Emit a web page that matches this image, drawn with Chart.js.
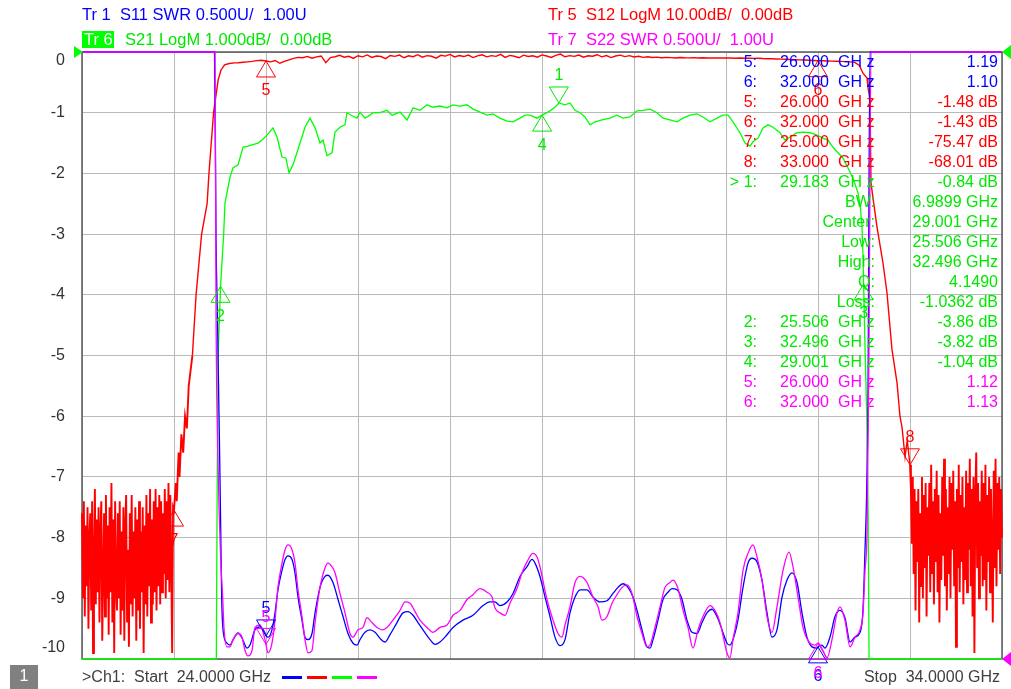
<!DOCTYPE html>
<html>
<head>
<meta charset="utf-8">
<script src="https://cdn.jsdelivr.net/npm/chart.js@4.4.0/dist/chart.umd.min.js"></script>
<style>
html,body{margin:0;padding:0;background:#fff;}
#wrap{width:1011px;height:689px;position:relative;}
</style>
</head>
<body>
<div id="wrap"><canvas id="vna" width="1011" height="689"></canvas></div>
<script>
// sweep and grid
const startGHz = 24, stopGHz = 34;
const gridTicks = [0, -1, -2, -3, -4, -5, -6, -7, -8, -9, -10];

// S12 LogM (red), dB. noise floor below band, 10 MHz steps
const s12LowStart = 24.00, s12NoiseStep = 0.01;
const s12LowNoise = [
  -76,-90,-74,-93,-78,-88,-75,-95,-80,-76,
  -92,-74,-99,-84,-72,-91,-77,-89,-75,-94,
  -79,-74,-97,-86,-76,-93,-73,-90,-78,-96,
  -75,-89,-71,-94,-77,-99,-74,-88,-92,-76,
  -90,-74,-96,-79,-92,-75,-97,-78,-73,-94,
  -82,-98,-76,-91,-73,-93,-79,-90,-75,-97,
  -77,-92,-74,-95,-79,-89,-75,-99,-78,-91,
  -73,-93,-76,-88,-72,-94,-77,-91,-74,-89,
  -72,-92,-75,-88,-73,-91,-74,-89,-76,-86,
  -72,-90,-74,-87,-71,-89,-73,-84,-99,-75,
  -75.47
];
const s12Rise = [
  [25.02,-71],[25.03,-74],[25.05,-66],[25.06,-70],[25.08,-63],[25.10,-66],[25.12,-60],
  [25.14,-62],[25.16,-55],[25.20,-50],[25.24,-40],
  [25.30,-30],[25.36,-25],[25.38,-20],[25.43,-10],[25.48,-4.6],[25.51,-3.0],[25.55,-2.1],
  [25.60,-1.9],[25.66,-1.8]
];
const s12PassStart = 25.70, s12PassStep = 0.05;
const s12Pass = [
  -1.76,-1.68,-1.62,-1.55,-1.42,-1.35,-1.48,-1.62,-1.40,-1.85,
  -1.55,-1.30,-1.05,-0.88,-0.95,-0.72,-1.02,-0.80,-0.65,-1.75,
  -0.92,-0.78,-0.55,-0.86,-0.70,-1.05,-0.62,-0.80,-0.48,-0.90,
  -0.66,-0.75,-1.10,-0.58,-0.72,-0.50,-0.95,-0.62,-0.78,-0.45,
  -0.85,-0.60,-0.70,-1.02,-0.55,-0.68,-0.40,-0.82,-0.58,-0.75,
  -0.50,-0.92,-0.64,-0.46,-0.80,-0.60,-0.72,-0.38,-0.88,-0.56,
  -0.70,-0.95,-0.52,-0.74,-0.62,-0.85,-0.48,-0.66,-0.90,-0.55,
  -0.35,-0.78,-0.60,-0.72,-0.50,-0.85,-0.63,-0.70,-0.45,-0.80,
  -0.58,-0.92,-0.66,-0.52,-0.76,-0.60,-0.82,-0.70,-0.88,-0.78,
  -0.90,-0.84,-0.95,-0.88,-0.92,-0.98,-0.90,-0.94,-0.96,-0.92,
  -0.98,-0.95,-1.00,-0.96,-0.99,-0.97,-1.00,-0.98,-1.02,-1.00,
  -1.03,-1.01,-1.05,-1.04,-1.08,-1.10,-1.12,-1.15,-1.18,-1.20,
  -1.24,-1.27,-1.30,-1.33,-1.36,-1.39,-1.43,-1.45,-1.48,-1.50,
  -1.52,-1.55,-1.58,-1.62,-1.70
];
const s12Fall = [
  [32.45,-2.2],[32.489,-3.5],[32.533,-4.3],[32.543,-5.8],[32.565,-7.9],[32.576,-21.6],
  [32.641,-28.8],[32.707,-34.8],[32.750,-39.7],[32.804,-49],[32.859,-54.5],[32.891,-60],
  [32.913,-61.8],[32.946,-66.7],[32.97,-64]
];
const s12HighStart = 33.00;
const s12HighNoise = [
  -68.01,-72,-81,-70,-86,-72,-92,-74,-84,-72,
  -94,-76,-88,-70,-90,-73,-85,-71,-93,-75,
  -83,-71,-89,-68,-86,-74,-91,-72,-84,-69,
  -89,-73,-94,-76,-87,-70,-83,-67,-88,-72,
  -92,-75,-86,-70,-90,-71,-82,-69,-88,-74,
  -98,-72,-85,-68,-89,-73,-84,-70,-91,-75,
  -87,-69,-89,-71,-82,-67,-88,-72,-93,-70,
  -99,-73,-66,-85,-71,-90,-74,-83,-69,-88,
  -71,-87,-68,-92,-73,-84,-70,-89,-72,-81,
  -94,-69,-85,-67,-88,-71,-82,-70,-86,-72,
  -80
];

// S21 LogM (green), dB (shown clamped at -10 outside the band)
const s21 = [
  [24.00,-10],[25.46,-10],[25.47,-7.0],[25.48,-5.0],[25.506,-3.86],[25.52,-3.5],[25.54,-3.0],
  [25.554,-2.49],[25.609,-2.06],[25.641,-1.91],[25.696,-1.86],[25.750,-1.57],[25.804,-1.55],
  [25.913,-1.50],[25.957,-1.45],[26.011,-1.37],[26.076,-1.25],[26.120,-1.40],[26.174,-1.73],
  [26.217,-1.75],[26.250,-1.99],[26.293,-1.86],[26.370,-1.50],[26.424,-1.24],[26.478,-1.09],
  [26.533,-1.25],[26.587,-1.50],[26.620,-1.45],[26.663,-1.71],[26.717,-1.66],[26.750,-1.32],
  [26.804,-1.24],[26.859,-1.20],[26.880,-1.00],[26.935,-1.05],[26.989,-1.09],[27.022,-0.99],
  [27.076,-1.09],[27.130,-1.04],[27.163,-1.00],[27.239,-1.00],[27.315,-0.96],[27.370,-1.04],
  [27.457,-0.99],[27.533,-1.12],[27.598,-0.92],[27.674,-0.96],[27.750,-0.87],[27.815,-0.91],
  [27.891,-0.89],[27.967,-0.92],[28.033,-0.87],[28.109,-0.89],[28.185,-0.87],[28.250,-0.94],
  [28.326,-0.99],[28.402,-1.04],[28.467,-1.02],[28.543,-1.09],[28.620,-1.14],[28.685,-1.15],
  [28.761,-1.09],[28.815,-1.04],[28.870,-1.04],[28.946,-1.09],[29.001,-1.04],[29.065,-0.99],
  [29.141,-0.91],[29.183,-0.84],[29.250,-0.87],[29.304,-0.84],[29.359,-0.96],[29.413,-1.00],
  [29.467,-1.07],[29.522,-1.20],[29.576,-1.15],[29.652,-1.12],[29.739,-1.09],[29.815,-1.04],
  [29.880,-1.09],[29.957,-1.07],[30.033,-0.97],[30.098,-0.96],[30.174,-0.94],[30.250,-1.00],
  [30.315,-1.09],[30.391,-1.12],[30.467,-1.15],[30.533,-1.09],[30.609,-1.04],[30.685,-1.02],
  [30.750,-1.07],[30.826,-1.15],[30.902,-1.09],[30.967,-1.04],[31.022,-1.04],[31.076,-1.15],
  [31.152,-1.33],[31.207,-1.50],[31.261,-1.55],[31.293,-1.48],[31.348,-1.42],[31.402,-1.25],
  [31.457,-1.20],[31.511,-1.24],[31.587,-1.33],[31.641,-1.45],[31.696,-1.40],[31.772,-1.33],
  [31.837,-1.32],[31.913,-1.33],[31.989,-1.37],[32.054,-1.42],[32.109,-1.45],[32.163,-1.57],
  [32.217,-1.66],[32.272,-1.75],[32.326,-1.91],[32.380,-2.08],[32.435,-2.32],[32.460,-2.55],
  [32.478,-2.88],[32.488,-3.30],[32.496,-3.82],[32.510,-4.80],[32.530,-6.00],[32.545,-7.60],
  [32.555,-10],[34.00,-10]
];

// S11 SWR (blue), shown clamped at 6.0 outside the band
const s11 = [
  [24.000,6.00],[25.440,6.00],[25.457,4.45],[25.473,3.79],[25.497,2.64],[25.508,2.06],[25.518,1.51],
  [25.533,1.24],[25.576,1.13],[25.609,1.115],[25.641,1.156],[25.696,1.214],[25.739,1.173],[25.793,1.09],
  [25.826,1.115],[25.880,1.24],[25.935,1.264],[25.989,1.214],[26.000,1.19],[26.022,1.18],[26.065,1.24],
  [26.098,1.38],[26.130,1.57],[26.174,1.73],[26.207,1.82],[26.239,1.85],[26.283,1.82],[26.315,1.71],
  [26.348,1.51],[26.391,1.32],[26.424,1.18],[26.457,1.16],[26.500,1.21],[26.533,1.38],[26.587,1.59],
  [26.641,1.68],[26.674,1.69],[26.728,1.63],[26.783,1.49],[26.837,1.35],[26.891,1.21],[26.946,1.13],
  [26.989,1.115],[27.022,1.16],[27.076,1.22],[27.130,1.24],[27.185,1.22],[27.239,1.17],[27.293,1.14],
  [27.348,1.20],[27.424,1.30],[27.489,1.38],[27.543,1.39],[27.598,1.36],[27.652,1.30],[27.707,1.24],
  [27.783,1.16],[27.837,1.12],[27.891,1.14],[27.967,1.20],[28.033,1.26],[28.141,1.32],[28.250,1.36],
  [28.359,1.44],[28.435,1.47],[28.489,1.47],[28.543,1.44],[28.620,1.47],[28.685,1.54],[28.761,1.68],
  [28.837,1.76],[28.891,1.82],[28.924,1.79],[28.978,1.68],[29.033,1.51],[29.087,1.35],[29.141,1.18],
  [29.196,1.11],[29.250,1.16],[29.304,1.38],[29.359,1.51],[29.413,1.57],[29.489,1.57],[29.554,1.51],
  [29.630,1.47],[29.707,1.48],[29.772,1.54],[29.826,1.59],[29.880,1.62],[29.935,1.59],[29.989,1.51],
  [30.033,1.40],[30.087,1.24],[30.141,1.10],[30.174,1.09],[30.207,1.16],[30.261,1.32],[30.315,1.49],
  [30.370,1.55],[30.413,1.58],[30.467,1.57],[30.522,1.49],[30.576,1.32],[30.630,1.22],[30.685,1.21],
  [30.739,1.30],[30.793,1.38],[30.848,1.41],[30.902,1.35],[30.957,1.24],[31.011,1.13],[31.043,1.115],
  [31.076,1.16],[31.130,1.32],[31.185,1.59],[31.239,1.79],[31.283,1.83],[31.337,1.80],[31.391,1.65],
  [31.446,1.38],[31.500,1.18],[31.554,1.24],[31.609,1.51],[31.663,1.65],[31.717,1.71],[31.772,1.63],
  [31.826,1.38],[31.880,1.18],[31.935,1.10],[31.989,1.09],[32.000,1.10],[32.043,1.115],[32.076,1.09],
  [32.130,1.18],[32.185,1.35],[32.239,1.40],[32.293,1.34],[32.348,1.14],[32.402,1.18],[32.457,1.22],
  [32.489,1.40],[32.511,1.90],[32.527,2.31],[32.543,3.13],[32.565,6.00],[34.000,6.00]
];

// S22 SWR (magenta)
const s22 = [
  [24.000,6.00],[25.446,6.00],[25.457,3.87],[25.478,2.64],[25.508,1.82],[25.529,1.51],[25.543,1.26],
  [25.576,1.10],[25.609,1.10],[25.641,1.16],[25.696,1.21],[25.739,1.18],[25.772,1.07],[25.804,1.025],
  [25.848,1.07],[25.880,1.26],[25.935,1.28],[25.989,1.16],[26.000,1.12],[26.022,1.05],[26.065,1.13],
  [26.098,1.32],[26.130,1.59],[26.174,1.79],[26.207,1.90],[26.239,1.94],[26.283,1.90],[26.315,1.79],
  [26.348,1.57],[26.391,1.35],[26.424,1.16],[26.457,1.05],[26.500,1.07],[26.533,1.30],[26.587,1.59],
  [26.641,1.75],[26.674,1.79],[26.717,1.76],[26.750,1.71],[26.804,1.54],[26.859,1.38],[26.913,1.21],
  [26.946,1.18],[27.000,1.24],[27.054,1.26],[27.098,1.34],[27.152,1.30],[27.207,1.26],[27.261,1.24],
  [27.315,1.26],[27.380,1.32],[27.457,1.40],[27.511,1.47],[27.565,1.46],[27.620,1.39],[27.674,1.32],
  [27.750,1.26],[27.815,1.22],[27.891,1.26],[27.967,1.28],[28.033,1.36],[28.109,1.40],[28.185,1.49],
  [28.250,1.53],[28.326,1.58],[28.402,1.55],[28.457,1.51],[28.489,1.42],[28.543,1.38],[28.598,1.36],
  [28.652,1.46],[28.728,1.58],[28.783,1.71],[28.837,1.80],[28.902,1.87],[28.946,1.84],[28.978,1.76],
  [29.054,1.49],[29.120,1.32],[29.174,1.21],[29.217,1.18],[29.250,1.28],[29.304,1.43],[29.359,1.63],
  [29.413,1.68],[29.489,1.63],[29.554,1.51],[29.609,1.43],[29.652,1.32],[29.707,1.35],[29.761,1.46],
  [29.815,1.53],[29.870,1.59],[29.924,1.61],[29.978,1.54],[30.033,1.35],[30.087,1.21],[30.141,1.10],
  [30.174,1.115],[30.228,1.26],[30.283,1.43],[30.337,1.59],[30.391,1.63],[30.424,1.65],[30.478,1.58],
  [30.533,1.40],[30.587,1.26],[30.641,1.09],[30.696,1.24],[30.750,1.35],[30.826,1.44],[30.880,1.40],
  [30.935,1.30],[31.011,1.05],[31.043,1.01],[31.076,1.16],[31.130,1.38],[31.185,1.73],[31.239,1.87],
  [31.293,1.94],[31.337,1.84],[31.391,1.65],[31.446,1.35],[31.500,1.22],[31.554,1.43],[31.620,1.73],
  [31.685,1.88],[31.728,1.76],[31.783,1.51],[31.837,1.26],[31.913,1.13],[31.967,1.115],[32.000,1.13],
  [32.054,1.07],[32.098,1.01],[32.152,1.16],[32.207,1.38],[32.239,1.43],[32.293,1.32],[32.348,1.10],
  [32.402,1.18],[32.457,1.24],[32.489,1.38],[32.511,1.73],[32.533,2.06],[32.554,3.55],[32.576,6.00],
  [34.000,6.00]
];

// markers (frequency GHz, value)
const s11MarkerId = ['5', '6'], s11MarkerF = [26.000, 32.000], s11MarkerSwr = [1.19, 1.10];
const s12MarkerId = ['5', '6', '7', '8'], s12MarkerF = [26.000, 32.000, 25.000, 33.000], s12MarkerDb = [-1.48, -1.43, -75.47, -68.01];
const s21MarkerId = ['1', '2', '3', '4'], s21MarkerF = [29.183, 25.506, 32.496, 29.001], s21MarkerDb = [-0.84, -3.86, -3.82, -1.04];
const s22MarkerId = ['5', '6'], s22MarkerF = [26.000, 32.000], s22MarkerSwr = [1.12, 1.13];
// bandwidth search readout
const bwLabels = ['BW:', 'Center:', 'Low:', 'High:', 'Q:', 'Loss:'];
const bwValues = ['6.9899 GHz', '29.001 GHz', '25.506 GHz', '32.496 GHz', '4.1490', '-1.0362 dB'];

const BLUE = '#0000ff', RED = '#ff0000', GREEN = '#00e800', MAGENTA = '#ff00ff';
const FONT = '"Liberation Sans", Arial, sans-serif';

function pairs(arr) { return arr.map(p => ({ x: p[0], y: p[1] })); }
function sweep(start, step, vals) { return vals.map((v, i) => ({ x: +(start + i * step).toFixed(3), y: v })); }

const s12Data = [].concat(
  sweep(s12LowStart, s12NoiseStep, s12LowNoise),
  pairs(s12Rise),
  sweep(s12PassStart, s12PassStep, s12Pass),
  pairs(s12Fall),
  sweep(s12HighStart, s12NoiseStep, s12HighNoise)
);

// marker symbol placement as on the instrument screen
const aboveSet = { 's11:5': 1, 's22:5': 1, 's12:8': 1, 's21:1': 1 };

function tri(ctx, x, y, up, color) {
  const h = 16, w = 9.5;
  ctx.beginPath();
  if (up) { ctx.moveTo(x, y); ctx.lineTo(x - w, y + h); ctx.lineTo(x + w, y + h); }
  else { ctx.moveTo(x, y); ctx.lineTo(x - w, y - h); ctx.lineTo(x + w, y - h); }
  ctx.closePath();
  ctx.strokeStyle = color; ctx.lineWidth = 1; ctx.stroke();
}

const vnaPlugin = {
  id: 'vna',
  beforeDatasetsDraw(chart) {
    const { ctx, chartArea: a } = chart;
    ctx.save();
    ctx.strokeStyle = '#5a5a5a'; ctx.lineWidth = 1.5;
    ctx.strokeRect(a.left, a.top, a.right - a.left, a.bottom - a.top);
    ctx.restore();
  },
  afterDraw(chart) {
    const { ctx, chartArea: a, scales } = chart;
    ctx.save();
    ctx.font = '16px ' + FONT;
    ctx.textBaseline = 'middle';

    // y grid labels
    ctx.fillStyle = '#333';
    ctx.textAlign = 'right';
    gridTicks.forEach(v => {
      let y = scales.y.getPixelForValue(v);
      y = Math.max(a.top + 9, Math.min(a.bottom - 11, y));
      ctx.fillText(String(v), 65, y);
    });

    // trace headers
    ctx.font = '16.5px ' + FONT;
    ctx.textAlign = 'left';
    ctx.fillStyle = BLUE; ctx.fillText('Tr 1  S11 SWR 0.500U/  1.00U', 82, 15);
    ctx.fillStyle = RED; ctx.fillText('Tr 5  S12 LogM 10.00dB/  0.00dB', 548, 15);
    ctx.fillStyle = '#00ff00'; ctx.fillRect(82, 31, 32, 17);
    ctx.fillStyle = '#fff'; ctx.fillText('Tr 6', 84, 40);
    ctx.fillStyle = GREEN; ctx.fillText('S21 LogM 1.000dB/  0.00dB', 125, 40);
    ctx.fillStyle = MAGENTA; ctx.fillText('Tr 7  S22 SWR 0.500U/  1.00U', 548, 40);
    ctx.font = '16px ' + FONT;

    // reference arrows on the frame
    ctx.fillStyle = '#00ff00';
    ctx.beginPath(); ctx.moveTo(74, a.top - 6); ctx.lineTo(83, a.top); ctx.lineTo(74, a.top + 6); ctx.fill();
    ctx.beginPath(); ctx.moveTo(1011, a.top - 7); ctx.lineTo(1002, a.top); ctx.lineTo(1011, a.top + 7); ctx.fill();
    ctx.fillStyle = MAGENTA;
    ctx.beginPath(); ctx.moveTo(1011, a.bottom - 7); ctx.lineTo(1002, a.bottom); ctx.lineTo(1011, a.bottom + 7); ctx.fill();

    // marker symbols
    const groups = [
      ['s11', 'ySwr', BLUE, s11MarkerId, s11MarkerF, s11MarkerSwr],
      ['s22', 'ySwr', MAGENTA, s22MarkerId, s22MarkerF, s22MarkerSwr],
      ['s12', 'yS12', RED, s12MarkerId, s12MarkerF, s12MarkerDb],
      ['s21', 'y', GREEN, s21MarkerId, s21MarkerF, s21MarkerDb]
    ];
    ctx.textAlign = 'center';
    groups.forEach(([tr, ax, col, ids, fs, vs]) => {
      fs.forEach((f, i) => {
        const x = scales.x.getPixelForValue(f);
        const y = scales[ax].getPixelForValue(vs[i]);
        const above = aboveSet[tr + ':' + ids[i]];
        tri(ctx, x, y, !above, col);
        ctx.fillStyle = col;
        ctx.fillText(ids[i], x, above ? y - 27 : y + 30);
      });
    });

    // marker readout table
    const rows = [];
    s11MarkerF.forEach((f, i) => rows.push({ c: BLUE, id: s11MarkerId[i] + ':', f: f.toFixed(3), v: s11MarkerSwr[i].toFixed(2) }));
    s12MarkerF.forEach((f, i) => rows.push({ c: RED, id: s12MarkerId[i] + ':', f: f.toFixed(3), v: s12MarkerDb[i].toFixed(2) + ' dB' }));
    rows.push({ c: GREEN, id: '> ' + s21MarkerId[0] + ':', f: s21MarkerF[0].toFixed(3), v: s21MarkerDb[0].toFixed(2) + ' dB' });
    bwLabels.forEach((l, i) => rows.push({ c: GREEN, lab: l, v: bwValues[i] }));
    for (let i = 1; i < s21MarkerF.length; i++) rows.push({ c: GREEN, id: s21MarkerId[i] + ':', f: s21MarkerF[i].toFixed(3), v: s21MarkerDb[i].toFixed(2) + ' dB' });
    s22MarkerF.forEach((f, i) => rows.push({ c: MAGENTA, id: s22MarkerId[i] + ':', f: f.toFixed(3), v: s22MarkerSwr[i].toFixed(2) }));
    rows.forEach((r, i) => {
      const y = 63 + 20 * i;
      ctx.fillStyle = r.c;
      if (r.lab) {
        ctx.textAlign = 'right'; ctx.fillText(r.lab, 875, y);
      } else {
        ctx.textAlign = 'right'; ctx.fillText(r.id, 757, y); ctx.fillText(r.f, 829, y);
        ctx.textAlign = 'left'; ctx.fillText('GH z', 838, y);
      }
      ctx.textAlign = 'right'; ctx.fillText(r.v, 998, y);
    });

    // footer
    ctx.fillStyle = '#808080'; ctx.fillRect(10, 665, 28, 24);
    ctx.fillStyle = '#fff'; ctx.textAlign = 'center'; ctx.fillText('1', 24, 677);
    ctx.fillStyle = '#404040'; ctx.textAlign = 'left';
    ctx.fillText('>Ch1:  Start  ' + startGHz.toFixed(4) + ' GHz', 82, 678);
    [BLUE, RED, '#00ff00', MAGENTA].forEach((c, i) => {
      ctx.fillStyle = c; ctx.fillRect(282 + i * 25, 676, 20, 3);
    });
    ctx.fillStyle = '#404040'; ctx.textAlign = 'right';
    ctx.fillText('Stop  ' + stopGHz.toFixed(4) + ' GHz', 1000, 678);
    ctx.restore();
  }
};

const lineBase = { pointRadius: 0, borderWidth: 1.3, fill: false, clip: 3 };

// thicker strokes in the noise-floor stretches so they fill in like on the screen
const noisy = c => (c.p0.parsed.x < 25.2 || c.p0.parsed.x >= 33.0) ? 1.9 : 1.4;

new Chart(document.getElementById('vna'), {
  type: 'line',
  data: {
    datasets: [
      Object.assign({ label: 'S22 SWR', data: pairs(s22), borderColor: MAGENTA, yAxisID: 'ySwr', order: 1, cubicInterpolationMode: 'monotone' }, lineBase),
      Object.assign({ label: 'S11 SWR', data: pairs(s11), borderColor: BLUE, yAxisID: 'ySwr', order: 2, cubicInterpolationMode: 'monotone' }, lineBase),
      Object.assign({}, lineBase, { label: 'S12 LogM', data: s12Data, borderColor: RED, yAxisID: 'yS12', order: 3, borderWidth: 1.6, segment: { borderWidth: noisy } }),
      Object.assign({ label: 'S21 LogM', data: pairs(s21), borderColor: '#00ff00', yAxisID: 'y', order: 4 }, lineBase)
    ]
  },
  options: {
    responsive: false,
    animation: false,
    devicePixelRatio: 1,
    layout: { padding: { left: 82, right: 9, top: 52, bottom: 30 } },
    plugins: { legend: { display: false }, tooltip: { enabled: false } },
    scales: {
      x: {
        type: 'linear', min: startGHz, max: stopGHz,
        ticks: { display: false, stepSize: 1 },
        grid: { color: '#b9b9b9', drawTicks: false, lineWidth: 1 },
        border: { display: false },
        afterFit(s) { s.height = 0; }
      },
      y: {
        min: -10, max: 0,
        ticks: { display: false, stepSize: 1 },
        grid: { color: '#b9b9b9', drawTicks: false, lineWidth: 1 },
        border: { display: false },
        afterFit(s) { s.width = 0; }
      },
      yS12: { display: false, min: -100, max: 0 },
      ySwr: { display: false, min: 1, max: 6 }
    }
  },
  plugins: [vnaPlugin]
});
</script>
</body>
</html>
